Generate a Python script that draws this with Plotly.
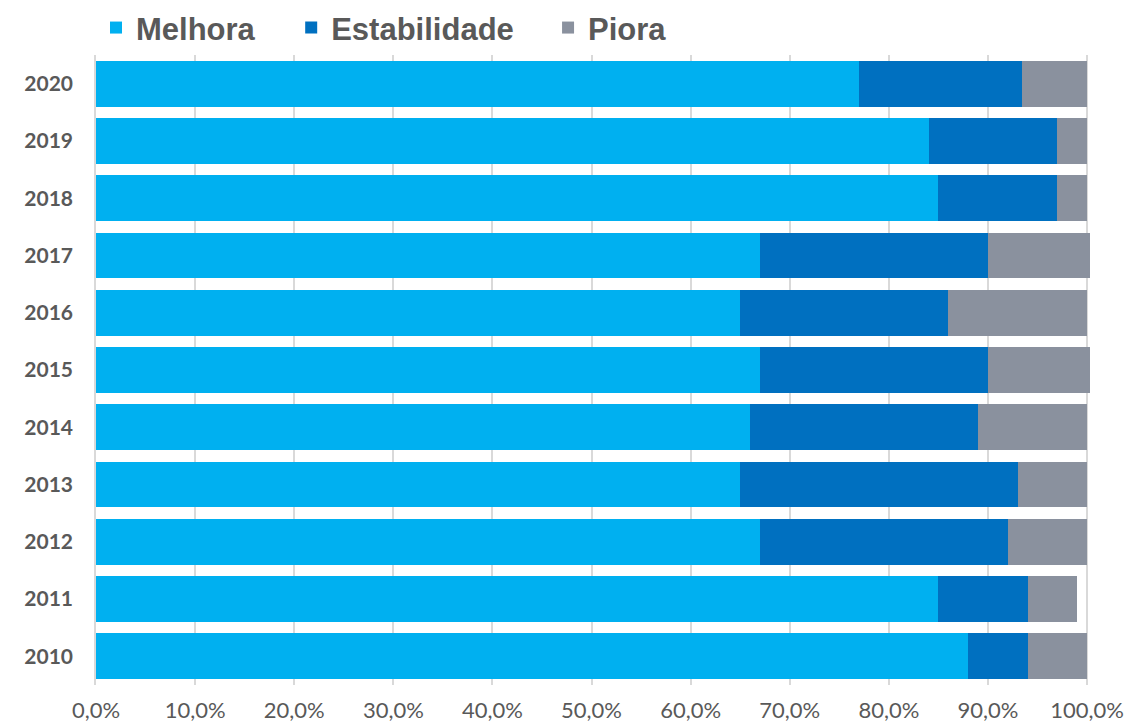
import plotly.graph_objects as go

# Share of respondents by outlook, per year (%)
years = ["2010", "2011", "2012", "2013", "2014", "2015", "2016", "2017", "2018", "2019", "2020"]
melhora = [88.0, 85.0, 67.0, 65.0, 66.0, 67.0, 65.0, 67.0, 85.0, 84.0, 77.0]
estabilidade = [6.0, 9.0, 25.0, 28.0, 23.0, 23.0, 21.0, 23.0, 12.0, 13.0, 16.4]
piora = [6.0, 5.0, 8.0, 7.0, 11.0, 10.3, 14.0, 10.3, 3.0, 3.0, 6.6]

series_names = ["Melhora", "Estabilidade", "Piora"]
series_colors = ["#00B0F0", "#0070C0", "#8A919E"]

tick_vals = [0, 10, 20, 30, 40, 50, 60, 70, 80, 90, 100]
tick_text = ["0,0%", "10,0%", "20,0%", "30,0%", "40,0%", "50,0%",
             "60,0%", "70,0%", "80,0%", "90,0%", "100,0%"]

legend_ids = ["legend", "legend2", "legend3"]
legend_x = [0.0, 0.195, 0.4516]

fig = go.Figure()
for name, vals, color, lg in zip(series_names, [melhora, estabilidade, piora], series_colors, legend_ids):
    fig.add_trace(go.Bar(
        y=years, x=vals, name=name, orientation="h",
        marker=dict(color=color, line=dict(width=0)),
        legend=lg,
    ))

legend_font = dict(family="Liberation Sans, Arial, sans-serif", size=31, color="#595959", weight="bold")
legend_cfg = {}
for lg, lx in zip(legend_ids, legend_x):
    legend_cfg[lg] = dict(
        x=lx, xanchor="left", y=1.043, yanchor="middle",
        orientation="h", font=legend_font,
        bgcolor="rgba(0,0,0,0)", borderwidth=0,
    )

fig.update_layout(
    width=1124, height=724,
    margin=dict(l=96, r=27, t=55, b=39, autoexpand=False),
    barmode="stack", bargap=0.2,
    plot_bgcolor="white", paper_bgcolor="white",
    xaxis=dict(
        range=[0, 101], tickvals=tick_vals, ticktext=tick_text,
        showgrid=True, gridcolor="#D9D9D9", gridwidth=1.5,
        zeroline=False, showline=False, ticks="", automargin=False,
        tickfont=dict(family="Lato, Calibri, sans-serif", size=22, color="#595959"),
        ticklabelstandoff=10,
    ),
    yaxis=dict(
        type="category", categoryorder="array", categoryarray=years,
        showgrid=False, zeroline=False, showline=True, linecolor="#D9D9D9", linewidth=1.5,
        ticks="", automargin=False,
        tickfont=dict(family="Lato, Calibri, sans-serif", size=21, color="#595959", weight="bold"),
        ticklabelstandoff=17,
    ),
    showlegend=True,
    **legend_cfg,
)

fig.write_html("out.html")
